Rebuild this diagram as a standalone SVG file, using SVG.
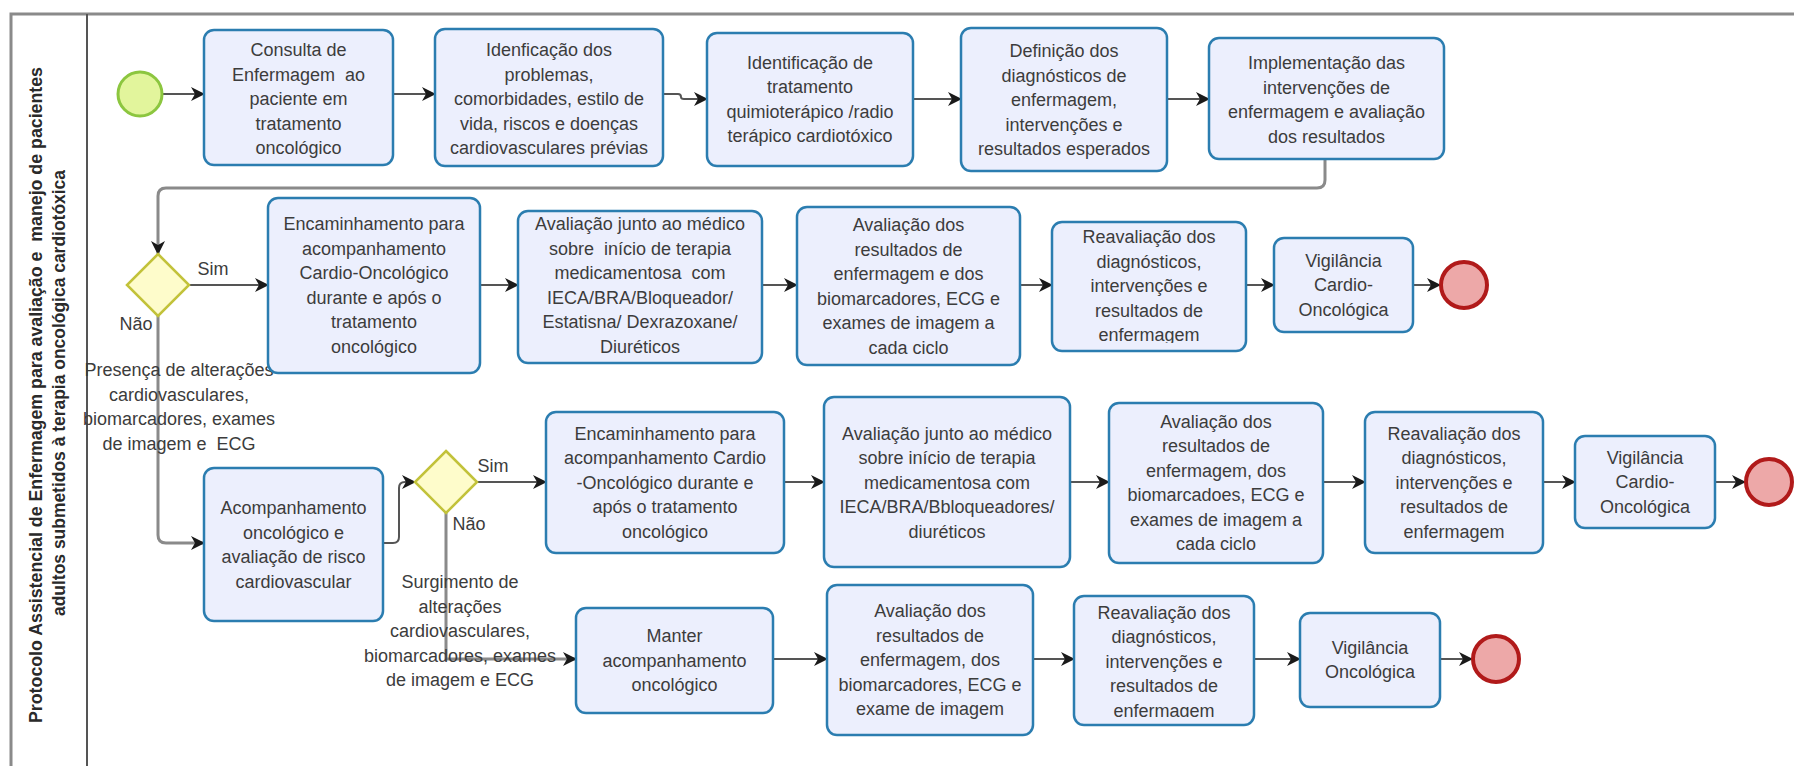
<svg xmlns="http://www.w3.org/2000/svg" width="1794" height="766" viewBox="0 0 1794 766">
<style>
.task{fill:#eceffd;stroke:#2b7db0;stroke-width:2.5}
.t{font-family:"Liberation Sans",Arial,sans-serif;font-size:18px;fill:#3c3c3c;text-anchor:middle}
.title{font-family:"Liberation Sans",Arial,sans-serif;font-size:17.5px;font-weight:bold;fill:#2a2a2a;text-anchor:middle}
.gw{fill:#fefccb;stroke:#c2c23a;stroke-width:2.5}
.start{fill:#e2f59c;stroke:#8cc63f;stroke-width:3}
.end{fill:#eda8a8;stroke:#b11a1a;stroke-width:4}
.c{fill:none;stroke:#555;stroke-width:2;marker-end:url(#arr)}
.cg{fill:none;stroke:#8a8a8a;stroke-width:3;marker-end:url(#arr)}
</style>
<defs>
<marker id="arr" markerUnits="userSpaceOnUse" markerWidth="14" markerHeight="14" refX="13" refY="7" orient="auto">
<path d="M0,0 L14,7 L0,14 L4,7 z" fill="#1a1a1a"/>
</marker>
<clipPath id="clipR2"><rect x="1052" y="222" width="194" height="121"/></clipPath>
<clipPath id="clipR4"><rect x="1074" y="596" width="180" height="121"/></clipPath>
</defs>
<rect x="0" y="0" width="1794" height="766" fill="#ffffff"/>
<g id="pool">
<rect x="11" y="14" width="1800" height="800" fill="none" stroke="#8a8a8a" stroke-width="3"/>
<line x1="87" y1="14" x2="87" y2="766" stroke="#555" stroke-width="2"/>
<text class="title" transform="translate(42,395) rotate(-90)" xml:space="preserve" textLength="656" lengthAdjust="spacingAndGlyphs">Protocolo Assistencial de Enfermagem para avaliação e  manejo de pacientes</text>
<text class="title" transform="translate(65,393) rotate(-90)" textLength="446" lengthAdjust="spacingAndGlyphs">adultos submetidos à terapia oncológica cardiotóxica</text>
</g>
<g id="connectors">
<path class="c" d="M162,94 L204,94"/>
<path class="c" d="M393,94 L435,94"/>
<path class="c" d="M663,94 L678,94 Q681,94 681,97 Q681,99 684,99 L707,99"/>
<path class="c" d="M913,99 L961,99"/>
<path class="c" d="M1167,99 L1209,99"/>
<path class="cg" d="M1325,159 L1325,180 Q1325,188 1317,188 L166,188 Q158,188 158,196 L158,254"/>
<path class="c" d="M189,285 L268,285"/>
<path class="c" d="M480,285 L518,285"/>
<path class="c" d="M762,285 L797,285"/>
<path class="c" d="M1020,285 L1052,285"/>
<path class="c" d="M1246,285 L1274,285"/>
<path class="c" d="M1413,285 L1440,285"/>
<path class="cg" d="M158,316 L158,535 Q158,543 166,543 L204,543"/>
<path class="c" d="M383,543 L393,543 Q399,543 399,537 L399,488 Q399,482 405,482 L415,482"/>
<path class="c" d="M477,482 L546,482"/>
<path class="c" d="M784,482 L824,482"/>
<path class="c" d="M1070,482 L1109,482"/>
<path class="c" d="M1323,482 L1365,482"/>
<path class="c" d="M1543,482 L1575,482"/>
<path class="c" d="M1715,482 L1745,482"/>
<path class="cg" d="M446,513 L446,659 L576,659"/>
<path class="c" d="M773,659 L827,659"/>
<path class="c" d="M1033,659 L1074,659"/>
<path class="c" d="M1254,659 L1300,659"/>
<path class="c" d="M1440,659 L1472,659"/>
</g>
<g id="start"><circle class="start" cx="140" cy="94" r="22"/></g>
<g id="n1"><rect class="task" x="204" y="30" width="189" height="135" rx="10"/>
<text class="t" xml:space="preserve"><tspan x="298.5" y="56">Consulta de</tspan><tspan x="298.5" y="80.5">Enfermagem  ao</tspan><tspan x="298.5" y="105">paciente em</tspan><tspan x="298.5" y="129.5">tratamento</tspan><tspan x="298.5" y="154">oncológico</tspan></text></g>
<g id="n2"><rect class="task" x="435" y="29" width="228" height="137" rx="10"/>
<text class="t"><tspan x="549" y="56">Idenficação dos</tspan><tspan x="549" y="80.5">problemas,</tspan><tspan x="549" y="105">comorbidades, estilo de</tspan><tspan x="549" y="129.5">vida, riscos e doenças</tspan><tspan x="549" y="154">cardiovasculares prévias</tspan></text></g>
<g id="n3"><rect class="task" x="707" y="33" width="206" height="133" rx="10"/>
<text class="t"><tspan x="810" y="68.75">Identificação de</tspan><tspan x="810" y="93.25">tratamento</tspan><tspan x="810" y="117.75">quimioterápico /radio</tspan><tspan x="810" y="142.25">terápico cardiotóxico</tspan></text></g>
<g id="n4"><rect class="task" x="961" y="28" width="206" height="143" rx="10"/>
<text class="t"><tspan x="1064" y="57">Definição dos</tspan><tspan x="1064" y="81.5">diagnósticos de</tspan><tspan x="1064" y="106">enfermagem,</tspan><tspan x="1064" y="130.5">intervenções e</tspan><tspan x="1064" y="155">resultados esperados</tspan></text></g>
<g id="n5"><rect class="task" x="1209" y="38" width="235" height="121" rx="10"/>
<text class="t"><tspan x="1326.5" y="69.25">Implementação das</tspan><tspan x="1326.5" y="93.75">intervenções de</tspan><tspan x="1326.5" y="118.25">enfermagem e avaliação</tspan><tspan x="1326.5" y="142.75">dos resultados</tspan></text></g>
<g id="gw1"><polygon class="gw" points="158,254 189,285 158,316 127,285"/>
<text class="t" x="213" y="275">Sim</text><text class="t" x="136" y="330">Não</text></g>
<g id="lbl1"><text class="t" xml:space="preserve"><tspan x="179" y="376">Presença de alterações</tspan><tspan x="179" y="400.5">cardiovasculares,</tspan><tspan x="179" y="425">biomarcadores, exames</tspan><tspan x="179" y="449.5">de imagem e  ECG</tspan></text></g>
<g id="n6"><rect class="task" x="268" y="198" width="212" height="175" rx="10"/>
<text class="t"><tspan x="374" y="230.25">Encaminhamento para</tspan><tspan x="374" y="254.75">acompanhamento</tspan><tspan x="374" y="279.25">Cardio-Oncológico</tspan><tspan x="374" y="303.75">durante e após o</tspan><tspan x="374" y="328.25">tratamento</tspan><tspan x="374" y="352.75">oncológico</tspan></text></g>
<g id="n7"><rect class="task" x="518" y="211" width="244" height="152" rx="10"/>
<text class="t" xml:space="preserve"><tspan x="640" y="230.25">Avaliação junto ao médico</tspan><tspan x="640" y="254.75">sobre  início de terapia</tspan><tspan x="640" y="279.25">medicamentosa  com</tspan><tspan x="640" y="303.75">IECA/BRA/Bloqueador/</tspan><tspan x="640" y="328.25">Estatisna/ Dexrazoxane/</tspan><tspan x="640" y="352.75">Diuréticos</tspan></text></g>
<g id="n8"><rect class="task" x="797" y="207" width="223" height="158" rx="10"/>
<text class="t"><tspan x="908.5" y="231.25">Avaliação dos</tspan><tspan x="908.5" y="255.75">resultados de</tspan><tspan x="908.5" y="280.25">enfermagem e dos</tspan><tspan x="908.5" y="304.75">biomarcadores, ECG e</tspan><tspan x="908.5" y="329.25">exames de imagem a</tspan><tspan x="908.5" y="353.75">cada ciclo</tspan></text></g>
<g id="n9"><rect class="task" x="1052" y="222" width="194" height="129" rx="10"/>
<text class="t" clip-path="url(#clipR2)"><tspan x="1149" y="243">Reavaliação dos</tspan><tspan x="1149" y="267.5">diagnósticos,</tspan><tspan x="1149" y="292">intervenções e</tspan><tspan x="1149" y="316.5">resultados de</tspan><tspan x="1149" y="341">enfermagem</tspan></text></g>
<g id="n10"><rect class="task" x="1274" y="238" width="139" height="94" rx="10"/>
<text class="t"><tspan x="1343.5" y="266.5">Vigilância</tspan><tspan x="1343.5" y="291">Cardio-</tspan><tspan x="1343.5" y="315.5">Oncológica</tspan></text></g>
<g id="end1"><circle class="end" cx="1464" cy="285" r="23"/></g>
<g id="n11"><rect class="task" x="204" y="468" width="179" height="153" rx="10"/>
<text class="t"><tspan x="293.5" y="514.25">Acompanhamento</tspan><tspan x="293.5" y="538.75">oncológico e</tspan><tspan x="293.5" y="563.25">avaliação de risco</tspan><tspan x="293.5" y="587.75">cardiovascular</tspan></text></g>
<g id="gw2"><polygon class="gw" points="446,451 477,482 446,513 415,482"/>
<text class="t" x="493" y="472">Sim</text><text class="t" x="469" y="530">Não</text></g>
<g id="lbl2"><text class="t"><tspan x="460" y="588">Surgimento de</tspan><tspan x="460" y="612.5">alterações</tspan><tspan x="460" y="637">cardiovasculares,</tspan><tspan x="460" y="661.5">biomarcadores, exames</tspan><tspan x="460" y="686">de imagem e ECG</tspan></text></g>
<g id="n12"><rect class="task" x="546" y="412" width="238" height="141" rx="10"/>
<text class="t"><tspan x="665" y="439.5">Encaminhamento para</tspan><tspan x="665" y="464">acompanhamento Cardio</tspan><tspan x="665" y="488.5">-Oncológico durante e</tspan><tspan x="665" y="513">após o tratamento</tspan><tspan x="665" y="537.5">oncológico</tspan></text></g>
<g id="n13"><rect class="task" x="824" y="397" width="246" height="170" rx="10"/>
<text class="t"><tspan x="947" y="439.5">Avaliação junto ao médico</tspan><tspan x="947" y="464">sobre início de terapia</tspan><tspan x="947" y="488.5">medicamentosa com</tspan><tspan x="947" y="513">IECA/BRA/Bbloqueadores/</tspan><tspan x="947" y="537.5">diuréticos</tspan></text></g>
<g id="n14"><rect class="task" x="1109" y="403" width="214" height="160" rx="10"/>
<text class="t"><tspan x="1216" y="427.75">Avaliação dos</tspan><tspan x="1216" y="452.25">resultados de</tspan><tspan x="1216" y="476.75">enfermagem, dos</tspan><tspan x="1216" y="501.25">biomarcadoes, ECG e</tspan><tspan x="1216" y="525.75">exames de imagem a</tspan><tspan x="1216" y="550.25">cada ciclo</tspan></text></g>
<g id="n15"><rect class="task" x="1365" y="412" width="178" height="141" rx="10"/>
<text class="t"><tspan x="1454" y="439.5">Reavaliação dos</tspan><tspan x="1454" y="464">diagnósticos,</tspan><tspan x="1454" y="488.5">intervenções e</tspan><tspan x="1454" y="513">resultados de</tspan><tspan x="1454" y="537.5">enfermagem</tspan></text></g>
<g id="n16"><rect class="task" x="1575" y="436" width="140" height="92" rx="10"/>
<text class="t"><tspan x="1645" y="463.5">Vigilância</tspan><tspan x="1645" y="488">Cardio-</tspan><tspan x="1645" y="512.5">Oncológica</tspan></text></g>
<g id="end2"><circle class="end" cx="1769" cy="482" r="23"/></g>
<g id="n17"><rect class="task" x="576" y="608" width="197" height="105" rx="10"/>
<text class="t"><tspan x="674.5" y="642">Manter</tspan><tspan x="674.5" y="666.5">acompanhamento</tspan><tspan x="674.5" y="691">oncológico</tspan></text></g>
<g id="n18"><rect class="task" x="827" y="585" width="206" height="150" rx="10"/>
<text class="t"><tspan x="930" y="617">Avaliação dos</tspan><tspan x="930" y="641.5">resultados de</tspan><tspan x="930" y="666">enfermagem, dos</tspan><tspan x="930" y="690.5">biomarcadores, ECG e</tspan><tspan x="930" y="715">exame de imagem</tspan></text></g>
<g id="n19"><rect class="task" x="1074" y="596" width="180" height="129" rx="10"/>
<text class="t" clip-path="url(#clipR4)"><tspan x="1164" y="618.5">Reavaliação dos</tspan><tspan x="1164" y="643">diagnósticos,</tspan><tspan x="1164" y="667.5">intervenções e</tspan><tspan x="1164" y="692">resultados de</tspan><tspan x="1164" y="716.5">enfermagem</tspan></text></g>
<g id="n20"><rect class="task" x="1300" y="613" width="140" height="94" rx="10"/>
<text class="t"><tspan x="1370" y="653.75">Vigilância</tspan><tspan x="1370" y="678.25">Oncológica</tspan></text></g>
<g id="end3"><circle class="end" cx="1496" cy="659" r="23"/></g>
</svg>
